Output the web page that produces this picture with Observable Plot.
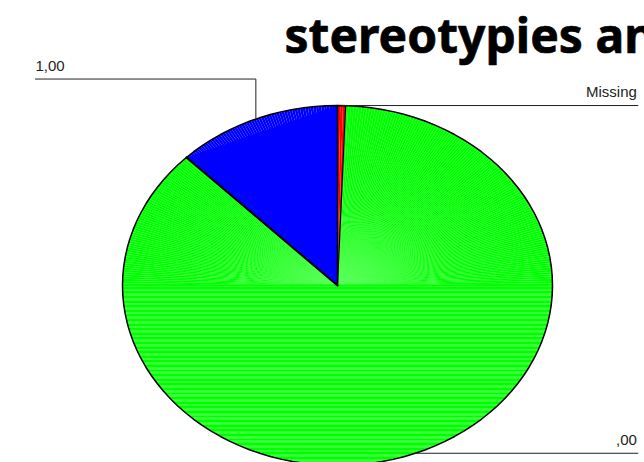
<!DOCTYPE html>
<html>
<head>
<meta charset="utf-8">
<script src="https://cdn.jsdelivr.net/npm/d3@7"></script>
<script src="https://cdn.jsdelivr.net/npm/@observablehq/plot@0.6"></script>
<style>
  html, body { margin: 0; padding: 0; background: #fff; overflow: hidden; }
  svg { display: block; }
</style>
</head>
<body>
<script>
// Slices clockwise from twelve o'clock, as percentages.
const categories = ["Missing", ",00", "1,00"];
const shares = [0.6, 87.0, 12.4];
const colors = ["#ff0000", "#00ff00", "#0000ff"];
const titleText = "stereotypies an";

// Label ends of the leader lines, in the pie's unit coordinates.
const leaderEndX = [1.397, 1.397, -1.405];
const leaderEndY = [null, null, 1.147];

// Angular size of each sector in a slice's fan, in degrees.
const fanStep = 0.72;
// Height of each band that fills the lower half, in unit coordinates.
const bandStep = 0.0071;

const total = d3.sum(shares);
const toAngle = (v) => (v / total) * 2 * Math.PI;
const rim = (a) => ({ x: Math.sin(a), y: Math.cos(a) });
const hub = { x: 0, y: 0 };

let start = 0;
const slices = categories.map((name, i) => {
  const a0 = start;
  const a1 = start + toAngle(shares[i]);
  start = a1;
  return { name, color: colors[i], a0, a1, mid: (a0 + a1) / 2 };
});

// A fan of separate thin sectors, so the anti-aliased seams stay visible.
function fan(a0, a1, tag) {
  const n = Math.max(1, Math.round(((a1 - a0) * 180) / Math.PI / fanStep));
  const pts = [];
  for (let k = 0; k < n; ++k) {
    const p = a0 + ((a1 - a0) * k) / n;
    const q = a0 + ((a1 - a0) * (k + 1)) / n;
    const id = `${tag}-${k}`;
    pts.push({ id, ...hub }, { id, ...rim(p) }, { id, ...rim(q) }, { id, ...hub });
  }
  return pts;
}

// The lower half is laid in as stacked horizontal bands instead of sectors.
function bands() {
  const pts = [];
  const half = (y) => Math.sqrt(Math.max(0, 1 - y * y));
  for (let k = 0, y = 0; y > -1; ++k, y -= bandStep) {
    const top = k === 0 ? y + 0.006 : y;
    const low = Math.max(-1, y - bandStep);
    const w0 = half(y);
    const w1 = half(low);
    pts.push(
      { id: k, x: -w0, y: top },
      { id: k, x: w0, y: top },
      { id: k, x: w1, y: low },
      { id: k, x: -w1, y: low }
    );
  }
  return pts;
}

const [missing, zero, one] = slices;
const outline = d3.range(0, 361, 3).map((deg) => rim((deg * Math.PI) / 180));
const spoke = (s) => [
  { id: s.name, ...hub },
  { id: s.name, ...rim(s.a0) }
];
const blueChord = [hub, rim(one.a0), rim(one.a1), hub];

// Leader lines run from the middle of each slice's rim out to its label.
const leaders = slices.flatMap((s, i) => {
  const p = rim(s.mid);
  return leaderEndY[i] === null
    ? [{ id: s.name, ...p }, { id: s.name, x: leaderEndX[i], y: p.y }]
    : [
        { id: s.name, ...p },
        { id: s.name, x: p.x, y: leaderEndY[i] },
        { id: s.name, x: leaderEndX[i], y: leaderEndY[i] }
      ];
});
const labels = slices.map((s, i) => ({
  name: s.name,
  x: leaderEndX[i],
  y: leaderEndY[i] === null ? rim(s.mid).y : leaderEndY[i],
  anchor: i === 2 ? "start" : "end"
}));

const sector = (data, fill) =>
  Plot.line(data, { x: "x", y: "y", z: "id", fill, stroke: "none" });
const labelFont = { fontFamily: "Liberation Sans", fontSize: 15, fill: "#222" };

const chart = Plot.plot({
  width: 644,
  height: 462,
  margin: 0,
  style: { background: "#fff", overflow: "hidden" },
  x: { domain: [-1, 1], range: [122, 552], axis: null },
  y: { domain: [-1, 1], range: [465, 105], axis: null },
  marks: [
    sector(bands(), zero.color),
    sector(fan(zero.a0, Math.PI / 2, "right"), zero.color),
    sector(fan((3 * Math.PI) / 2, zero.a1, "left"), zero.color),
    sector(fan(missing.a0, missing.a1, "missing"), missing.color),
    sector(fan(one.a0, one.a1, "one"), one.color),
    Plot.line(blueChord, { x: "x", y: "y", fill: one.color, stroke: "none" }),
    Plot.line(spoke(missing), { x: "x", y: "y", stroke: "#000", strokeWidth: 1.5 }),
    Plot.line(spoke(zero), { x: "x", y: "y", stroke: "#000", strokeWidth: 1.2 }),
    Plot.line(spoke(one), { x: "x", y: "y", stroke: "#000", strokeWidth: 2 }),
    Plot.line(outline, { x: "x", y: "y", stroke: "#000", strokeWidth: 1.5 }),
    Plot.line(leaders, { x: "x", y: "y", z: "id", stroke: "#222", strokeWidth: 1 }),
    Plot.text(labels.filter((d) => d.anchor === "end"), {
      x: "x", y: "y", text: "name", textAnchor: "end", dx: -1, dy: -13, ...labelFont
    }),
    Plot.text(labels.filter((d) => d.anchor === "start"), {
      x: "x", y: "y", text: "name", textAnchor: "start", dx: 0, dy: -13, ...labelFont
    }),
    Plot.text([titleText], {
      frameAnchor: "top-left", dx: 284, dy: 18, textAnchor: "start", lineAnchor: "top",
      fontFamily: "Noto Sans", fontWeight: 700, fontSize: 48, fill: "#000",
      stroke: "#000", strokeWidth: 0.7
    })
  ]
});
document.body.appendChild(chart);
</script>
</body>
</html>
